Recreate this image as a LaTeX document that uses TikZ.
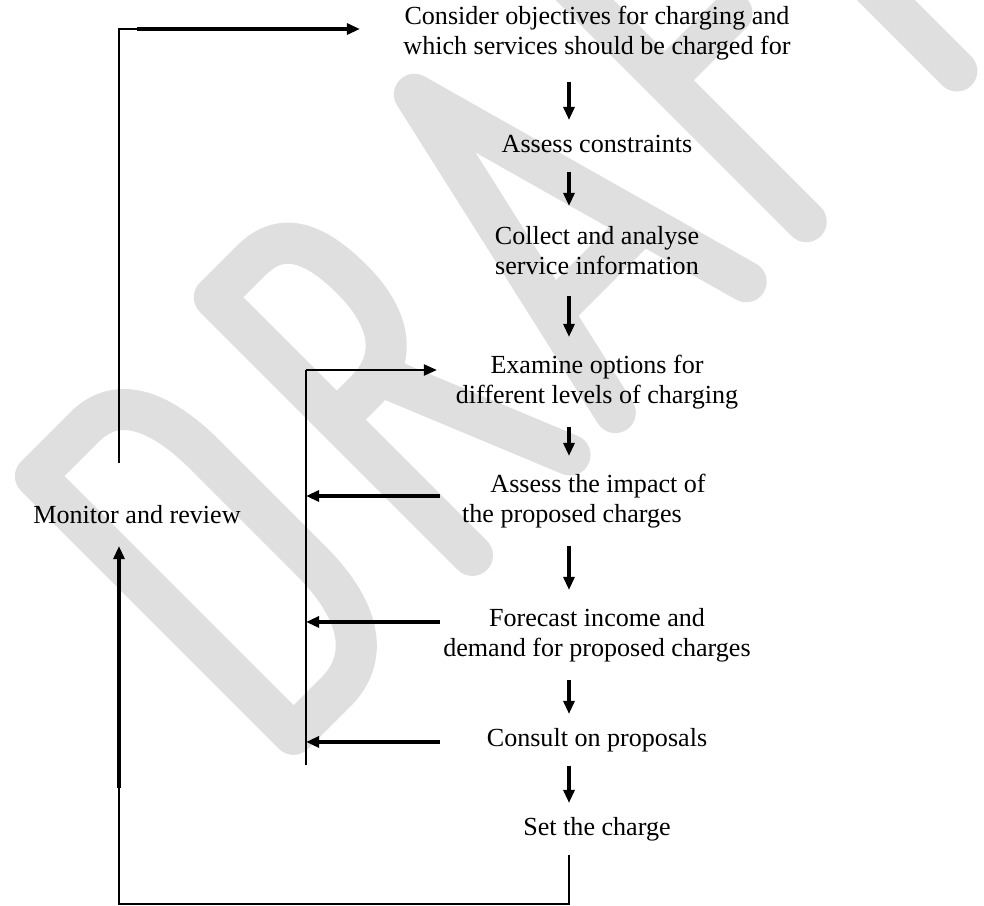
\documentclass[tikz,border=0pt]{standalone}
\usepackage{fontspec}
\setmainfont{Liberation Serif}
\usetikzlibrary{arrows.meta}

\begin{document}
\begin{tikzpicture}[
  x=0.46pt, y=-0.46pt,
  >={Triangle[length=6pt,width=5pt]},
  every text node part/.style={align=center},
  stage/.style={font=\fontsize{12}{13.8}\selectfont, inner sep=0pt, text height=8.5pt, text depth=2.6pt, minimum height=23.5pt},
  stagetwo/.style={font=\fontsize{12}{13.8}\selectfont, inner sep=0pt, minimum height=41pt},
  arr/.style={line width=1.5pt, ->},
  link/.style={line width=0.9pt},
  wmark/.style={draw=gray!25, line width=18.9pt, line cap=round, line join=round}
]
\useasboundingbox (0,0) rectangle (984,906);

% watermark
\begin{scope}
  \clip (0,0) rectangle (984,906);
  \begin{scope}[shift={(290,752)}, x={(0.3253pt,0.3253pt)}, y={(-0.3253pt,0.3253pt)}]
    \draw[wmark] (15,10) -- (15,375) -- (85,375) .. controls (130,375) and (150,335) .. (150,270) -- (150,120) .. controls (150,45) and (120,10) .. (75,10) -- cycle;
    \draw[wmark] (268,10) -- (268,375) -- (320,375) .. controls (362,375) and (378,345) .. (378,290) .. controls (378,232) and (352,202) .. (310,202) -- (268,202);
    \draw[wmark] (330,202) -- (408,12);
    \draw[wmark] (470,10) -- (553,377) -- (655,10);
    \draw[wmark] (497,125) -- (622,125);
    \draw[wmark] (870,375) -- (740,375) -- (740,10);
    \draw[wmark] (740,210) -- (835,210);
    \draw[wmark] (850,375) -- (1060,375);
    \draw[wmark] (953,375) -- (953,10);
  \end{scope}
\end{scope}

% steps
\node[stagetwo] (obj)  at (597,33)  {Consider objectives for charging and\\which services should be charged for};
\node[stage]    (con)  at (597,146) {Assess constraints};
\node[stagetwo] (col)  at (597,251) {Collect and analyse\\service information};
\node[stagetwo] (exa)  at (597,382) {Examine options for\\different levels of charging};
\node[stagetwo] (imp)  at (572,501) {\hspace*{2em}Assess the impact of\\the proposed charges};
\node[stagetwo] (fore) at (597,635) {Forecast income and\\demand for proposed charges};
\node[stage]    (cons) at (597,740) {Consult on proposals};
\node[stage]    (set)  at (597,829) {Set the charge};
\node[stage]    (mon)  at (137,517) {Monitor and review};

\coordinate (ax) at (569,0);
\draw[arr] ([yshift=-2pt]obj.south -| ax) -- (con.north -| ax);
\draw[arr] (con.south -| ax) -- (col.north -| ax);
\draw[arr] (col.south -| ax) -- (exa.north -| ax);
\draw[arr] (exa.south -| ax) -- (imp.north -| ax);
\draw[arr] (imp.south -| ax) -- (fore.north -| ax);
\draw[arr] (fore.south -| ax) -- (cons.north -| ax);
\draw[arr] (cons.south -| ax) -- (set.north -| ax);

% inner loop
\coordinate (barT) at (306,370);
\coordinate (barB) at (306,765);
\coordinate (fx) at (440,0);
\draw[link] (barT) -- (barB);
\draw[arr, line width=1.2pt, shorten >=8.5pt] (barT) -- (barT -| exa.west);
\coordinate (impL)  at ([yshift=2.3pt]imp.west);
\coordinate (foreL) at ([yshift=6pt]fore.west);
\coordinate (consL) at ([yshift=-0.9pt]cons.west);
\draw[arr] (impL -| fx) -- (impL -| barT);
\draw[arr] (foreL -| fx) -- (foreL -| barT);
\draw[arr] (consL -| fx) -- (consL -| barT);

% outer loop
\coordinate (lowR) at (569,904);
\coordinate (lowL) at (119,904);
\coordinate (mid)  at (119,788);
\coordinate (monB) at (119,546);
\coordinate (monT) at (119,463);
\coordinate (upL)  at (119,29);
\coordinate (topK) at (137,29);
\draw[link] (set.south -| ax) -- (lowR) -- (lowL) -- (mid);
\draw[arr] (mid) -- (monB);
\draw[link] (monT) -- (upL) -- (topK);
\draw[arr, shorten >=19.8pt] (topK) -- (topK -| obj.west);

\end{tikzpicture}
\end{document}
